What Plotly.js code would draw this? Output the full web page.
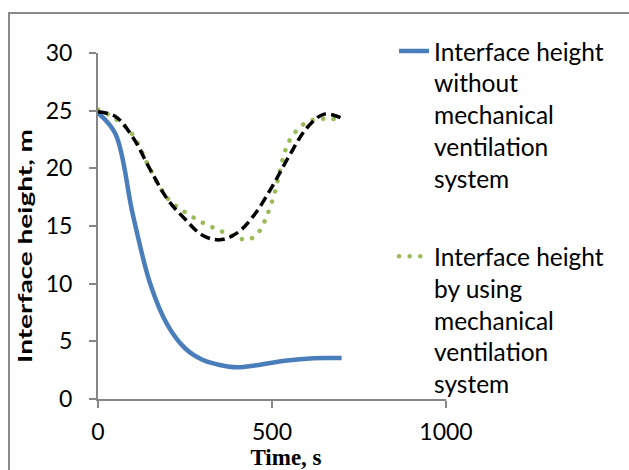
<!DOCTYPE html>
<html>
<head>
<meta charset="utf-8">
<script src="https://cdn.plot.ly/plotly-3.0.1.min.js"></script>
<style>
  html, body { margin: 0; padding: 0; background: #fff; }
  #wrap { position: relative; width: 629px; height: 470px; overflow: hidden; }
  #chart { position: absolute; left: 0; top: 0; width: 629px; height: 470px; }
  #frame { position: absolute; left: 8px; top: 12px; width: 700px; height: 500px;
           border-top: 2px solid #8a8a8a; border-left: 2px solid #8a8a8a; pointer-events: none; }
</style>
</head>
<body>
<div id="wrap">
  <div id="chart"></div>
  <div id="frame"></div>
</div>
<script>
// Time, s
const timeWithout = [0, 50, 100, 150, 200, 250, 300, 350, 400, 450, 500, 550, 600, 650, 700];
// Interface height without mechanical ventilation, m
const heightWithout = [24.8, 23.0, 16.0, 10.0, 6.4, 4.4, 3.4, 2.95, 2.75, 2.9, 3.15, 3.35, 3.5, 3.55, 3.55];

const timeWith = [0, 50, 100, 150, 200, 250, 300, 350, 400, 430, 460, 500, 550, 600, 650, 700];
// Interface height by using mechanical ventilation, m
const heightWith = [25.1, 24.3, 22.9, 19.9, 17.4, 16.2, 15.3, 14.6, 14.0, 13.8, 14.4, 17.1, 22.4, 24.0, 24.3, 24.2];

const timeDashed = [0, 50, 100, 150, 200, 250, 300, 350, 400, 450, 500, 550, 600, 650, 700];
// unlabelled dashed series
const heightDashed = [24.9, 24.5, 22.7, 19.9, 17.3, 15.6, 14.2, 13.8, 14.4, 16.0, 18.4, 21.1, 23.5, 24.7, 24.35];

const legendNames = [
  'Interface height<br>without<br>mechanical<br>ventilation<br>system',
  'Interface height<br>by using<br>mechanical<br>ventilation<br>system'
];
const xTicks = [0, 500, 1000];
const yTicks = [0, 5, 10, 15, 20, 25, 30];

const traces = [
  {
    x: timeWithout, y: heightWithout, type: 'scatter', mode: 'lines',
    name: legendNames[0], legendgroup: 'a',
    line: { color: '#4a7ebb', width: 4.5, shape: 'spline', smoothing: 1 }
  },
  {
    x: timeWith, y: heightWith, type: 'scatter', mode: 'lines',
    name: legendNames[1], legendgroup: 'b',
    line: { color: '#9bbb59', width: 4.5, dash: '0.1px,10.5px', shape: 'spline', smoothing: 1 }
  },
  {
    x: timeDashed, y: heightDashed, type: 'scatter', mode: 'lines',
    showlegend: false, hoverinfo: 'skip',
    line: { color: '#000000', width: 3.5, dash: '10px,5px', shape: 'spline', smoothing: 1 }
  }
];

const axisColor = '#868686';
const layout = {
  width: 629, height: 470,
  margin: { l: 98, r: 183, t: 53, b: 71, pad: 0 },
  paper_bgcolor: '#ffffff', plot_bgcolor: '#ffffff',
  font: { family: 'Lato, "Open Sans", sans-serif', color: '#000000' },
  showlegend: true,
  legend: {
    x: 0.8506, xanchor: 'left', y: 1.0705, yanchor: 'top',
    valign: 'top', traceorder: 'grouped', tracegroupgap: 43,
    maxheight: 440,
    font: { family: 'Lato, sans-serif', size: 24.5, color: '#000' },
    bgcolor: 'rgba(0,0,0,0)', borderwidth: 0
  },
  xaxis: {
    range: [0, 1000], tickvals: xTicks, ticktext: xTicks.map(String),
    showgrid: false, zeroline: false,
    showline: true, linecolor: axisColor, linewidth: 2,
    ticks: 'outside', ticklen: 7, tickwidth: 2, tickcolor: axisColor,
    ticklabelstandoff: 4,
    tickfont: { family: 'Lato, sans-serif', size: 23, color: '#000' },
    title: { text: '<b>Time, s</b>', font: { family: '"Liberation Serif", "Times New Roman", serif', size: 23, color: '#000' }, standoff: 4 }
  },
  yaxis: {
    range: [0, 30], tickvals: yTicks, ticktext: yTicks.map(String),
    showgrid: false, zeroline: false,
    showline: true, linecolor: axisColor, linewidth: 2,
    ticks: 'outside', ticklen: 7, tickwidth: 2, tickcolor: axisColor,
    ticklabelstandoff: 12,
    tickfont: { family: 'Lato, sans-serif', size: 23, color: '#000' },
    title: { text: '<b>Interface height, m</b>', font: { family: 'Lato, sans-serif', size: 19, color: '#000' }, standoff: 8 }
  }
};

Plotly.newPlot('chart', traces, layout, { staticPlot: true, displayModeBar: false }).then(function (gd) {
  // round dots for the dotted series (plot and legend sample)
  gd.querySelectorAll('path.js-line').forEach(function (p) {
    var s = (p.style.stroke || '').replace(/\s/g, '');
    if (s === 'rgb(155,187,89)') p.style.strokeLinecap = 'round';
  });
  // stretch the y-axis title along its direction and sit it a little lower, as in the reference
  var t = gd.querySelector('text.ytitle');
  if (t) {
    var cx = +t.getAttribute('x'), cy = +t.getAttribute('y');
    var len = t.getBBox().width;
    var s = len > 0 ? 234 / len : 1;
    var base = t.getAttribute('transform') || '';
    t.setAttribute('transform', 'translate(0,20) ' + base + ' translate(' + cx + ',' + cy + ') scale(' + s + ',1) translate(' + (-cx) + ',' + (-cy) + ')');
  }
  // the x-axis title sits slightly right of the plot centre in the reference
  var xt = gd.querySelector('text.xtitle');
  if (xt) {
    var xb = xt.getAttribute('transform') || '';
    xt.setAttribute('transform', 'translate(14,0) ' + xb);
  }
});
</script>
</body>
</html>
